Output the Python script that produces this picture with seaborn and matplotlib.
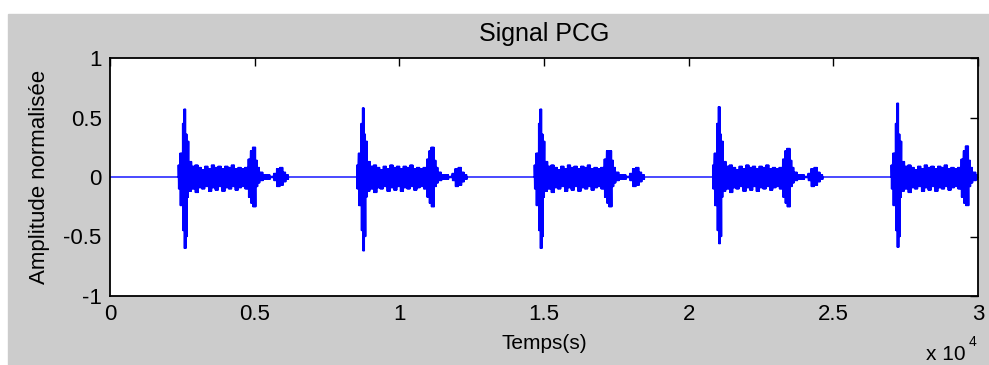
import matplotlib
matplotlib.use("Agg")
import matplotlib.pyplot as plt
from matplotlib.patches import Rectangle
import numpy as np
import pandas as pd
import seaborn as sb

# --- data ------------------------------------------------------------------
# start of each heart cycle (samples) and its S1 / S2 peaks
cycle_start = [2360, 8530, 14665, 20830, 27000]
s1_up = [0.57, 0.58, 0.57, 0.59, 0.62]
s1_dn = [-0.60, -0.62, -0.60, -0.56, -0.59]
s2_up = [0.25, 0.25, 0.22, 0.24, 0.26]
s2_dn = [-0.25, -0.25, -0.25, -0.25, -0.24]

# envelope of one cycle : segment edges (samples from start), upper, lower
seg_edges = [0, 60, 150, 200, 270, 310, 360, 460, 580, 690, 800, 920, 1040,
             1150, 1270, 1380, 1500, 1610, 1730, 1840, 1960, 2070, 2190,
             2300, 2420, 2500, 2570, 2680, 2750, 2820, 2940, 3170, 3300,
             3400, 3510, 3630, 3720, 3810]
seg_up = [0.10, 0.20, 0.45, 'S1', 0.36, 0.30, 0.13, 0.09, 0.10, 0.08, 0.06,
          0.09, 0.07, 0.10, 0.08, 0.09, 0.07, 0.09, 0.08, 0.10, 0.07, 0.08,
          0.07, 0.08, 0.15, 0.22, 'S2', 0.14, 0.08, 0.04, 0.02, 0.005, 0.03,
          0.07, 0.08, 0.04, 0.02]
seg_dn = [-0.10, -0.24, -0.45, 'S1', -0.50, -0.17, -0.12, -0.10, -0.13, -0.09,
          -0.10, -0.08, -0.12, -0.09, -0.11, -0.08, -0.12, -0.09, -0.10, -0.08,
          -0.11, -0.09, -0.08, -0.10, -0.17, -0.22, 'S2', -0.08, -0.05, -0.03,
          -0.02, -0.005, -0.03, -0.08, -0.07, -0.04, -0.02]

n_total = 30000
xticks = [0, 5000, 10000, 15000, 20000, 25000, 30000]
xtick_labels = ['0', '0.5', '1', '1.5', '2', '2.5', '3']
yticks = [-1, -0.5, 0, 0.5, 1]
ytick_labels = ['-1', '-0.5', '0', '0.5', '1']

# --- build the trace (zigzag between the envelopes) --------------------------
xs, ys = [0.0], [0.0]
for c, t0 in enumerate(cycle_start):
    xs.append(t0)
    ys.append(0.0)
    for k in range(len(seg_up)):
        up = {'S1': s1_up[c], 'S2': s2_up[c]}.get(seg_up[k], seg_up[k])
        dn = {'S1': s1_dn[c], 'S2': s2_dn[c]}.get(seg_dn[k], seg_dn[k])
        pts = np.arange(seg_edges[k], seg_edges[k + 1], 12) + t0
        pts = pts[pts <= n_total]
        vals = np.where(np.arange(len(pts)) % 2 == 0, up, dn)
        xs.extend(pts)
        ys.extend(vals)
    end = min(t0 + seg_edges[-1], n_total)
    xs.append(end)
    ys.append(0.0)
if xs[-1] < n_total:
    xs.append(n_total)
    ys.append(0.0)

df = pd.DataFrame({'t': xs, 'a': ys})

# --- figure -----------------------------------------------------------------
sb.set_style("white")
plt.rcParams['font.family'] = ['Liberation Sans', 'DejaVu Sans']
plt.rcParams['text.color'] = 'black'
plt.rcParams['axes.labelcolor'] = 'black'

fig = plt.figure(figsize=(9.89, 3.65), dpi=100, facecolor='white')
fig.patches.append(Rectangle((8 / 989, 0), 1, (365 - 14) / 365,
                             transform=fig.transFigure, color='#cccccc',
                             zorder=-10))
ax = fig.add_axes([110 / 989, (365 - 296) / 365, 868 / 989, 238 / 365])
ax.set_facecolor('white')

sb.lineplot(data=df, x='t', y='a', ax=ax, sort=False, estimator=None,
            color='#0000ff', linewidth=1.0)

ax.set_xlim(0, n_total)
ax.set_ylim(-1, 1)
ax.set_xticks(xticks)
ax.set_xticklabels(xtick_labels)
ax.set_yticks(yticks)
ax.set_yticklabels(ytick_labels)
ax.tick_params(direction='in', length=6, width=1, top=True, right=True,
               labelsize=16, colors='black', pad=6)
for sp in ax.spines.values():
    sp.set_color('black')
    sp.set_linewidth(1.3)

ax.set_title('Signal PCG', fontsize=18, pad=12)
ax.set_xlabel('Temps(s)', fontsize=15, labelpad=6)
ax.set_ylabel('Amplitude normalisée', fontsize=16, labelpad=10)
fig.text(966 / 989, 10 / 365, 'x 10', fontsize=15, ha='right', va='center')
fig.text(969 / 989, 23 / 365, '4', fontsize=10, ha='left', va='center')

fig.savefig('out.png', dpi=100, facecolor=fig.get_facecolor())
